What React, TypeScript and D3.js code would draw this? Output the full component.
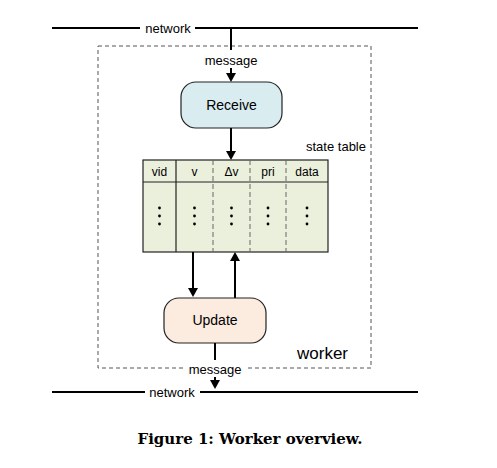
import React from "react";
import * as d3 from "d3";

const columns = ["vid", "v", "\u0394v", "pri", "data"];
const columnEdges = [143, 176, 213, 250, 286, 328];
const solidSeparators = [true, false, false, false];

const F = "Liberation Sans, Arial, sans-serif";

export default function App() {
  const arrow = (x: number, y: number, dir: number) =>
    `M${x - 5},${y - 9 * dir} L${x + 5},${y - 9 * dir} L${x},${y} Z`;
  const line = d3.line();
  return (
    <svg width={497} height={468} style={{ position: "absolute", left: 0, top: 0, background: "#fff" }}>
      {/* network lines */}
      <line x1={52} x2={140} y1={28} y2={28} stroke="#000" strokeWidth={2} />
      <line x1={195} x2={418} y1={28} y2={28} stroke="#000" strokeWidth={2} />
      <text x={168} y={33} fontFamily={F} fontSize={13} textAnchor="middle">network</text>
      <line x1={52} x2={145} y1={392} y2={392} stroke="#000" strokeWidth={2} />
      <line x1={200} x2={418} y1={392} y2={392} stroke="#000" strokeWidth={2} />
      <text x={172} y={397} fontFamily={F} fontSize={13} textAnchor="middle">network</text>

      {/* worker box */}
      <path d={line([[98, 46], [371, 46], [371, 368], [248, 368]])!} fill="none" stroke="#555" strokeDasharray="4,3" />
      <path d={line([[183, 368], [98, 368], [98, 46]])!} fill="none" stroke="#555" strokeDasharray="4,3" />
      <text x={297} y={359} fontFamily={F} fontSize={17}>worker</text>

      {/* top message */}
      <line x1={231} x2={231} y1={28} y2={50} stroke="#000" strokeWidth={2} />
      <text x={231} y={65} fontFamily={F} fontSize={13} textAnchor="middle">message</text>
      <line x1={231} x2={231} y1={68} y2={74} stroke="#000" strokeWidth={2} />
      <path d={arrow(231, 82, 1)} fill="#000" />

      {/* receive */}
      <rect x={181} y={82} width={101} height={46} rx={15} fill="#d9edf1" stroke="#222" strokeWidth={1.2} />
      <text x={231.5} y={110} fontFamily={F} fontSize={14} textAnchor="middle">Receive</text>
      <line x1={231} x2={231} y1={128} y2={152} stroke="#000" strokeWidth={2} />
      <path d={arrow(231, 160, 1)} fill="#000" />
      <text x={306} y={151} fontFamily={F} fontSize={13}>state table</text>

      {/* table */}
      <rect x={143} y={160} width={185} height={92} fill="#ebf0dc" stroke="#222" strokeWidth={1.2} />
      <line x1={143} x2={328} y1={182} y2={182} stroke="#222" strokeWidth={1.2} />
      {solidSeparators.map((s, i) => (
        <line key={i} x1={columnEdges[i + 1]} x2={columnEdges[i + 1]} y1={160} y2={252}
          stroke={s ? "#222" : "#666"} strokeWidth={s ? 1.2 : 1} strokeDasharray={s ? undefined : "5,3"} />
      ))}
      {columns.map((c, i) => {
        const cx = (columnEdges[i] + columnEdges[i + 1]) / 2;
        return (
          <g key={c}>
            <text x={cx} y={176} fontFamily={F} fontSize={12} textAnchor="middle">{c}</text>
            {[208, 216, 224].map((y) => <circle key={y} cx={cx} cy={y} r={1.4} fill="#000" />)}
          </g>
        );
      })}

      {/* arrows table/update */}
      <line x1={193} x2={193} y1={252} y2={289} stroke="#000" strokeWidth={2} />
      <path d={arrow(193, 297, 1)} fill="#000" />
      <line x1={235} x2={235} y1={298} y2={260} stroke="#000" strokeWidth={2} />
      <path d={arrow(235, 252, -1)} fill="#000" />

      {/* update */}
      <rect x={164} y={298} width={102} height={45} rx={15} fill="#fcebdf" stroke="#222" strokeWidth={1.2} />
      <text x={215} y={325} fontFamily={F} fontSize={14} textAnchor="middle">Update</text>

      {/* bottom message */}
      <line x1={215} x2={215} y1={343} y2={360} stroke="#000" strokeWidth={2} />
      <text x={215} y={374} fontFamily={F} fontSize={13} textAnchor="middle">message</text>
      <line x1={215} x2={215} y1={377} y2={380} stroke="#000" strokeWidth={2} />
      <path d={arrow(215, 389, 1)} fill="#000" />

      <text x={250} y={444} fontFamily="DejaVu Serif, serif" fontWeight="bold" fontSize={15} textAnchor="middle">Figure 1: Worker overview.</text>
    </svg>
  );
}
